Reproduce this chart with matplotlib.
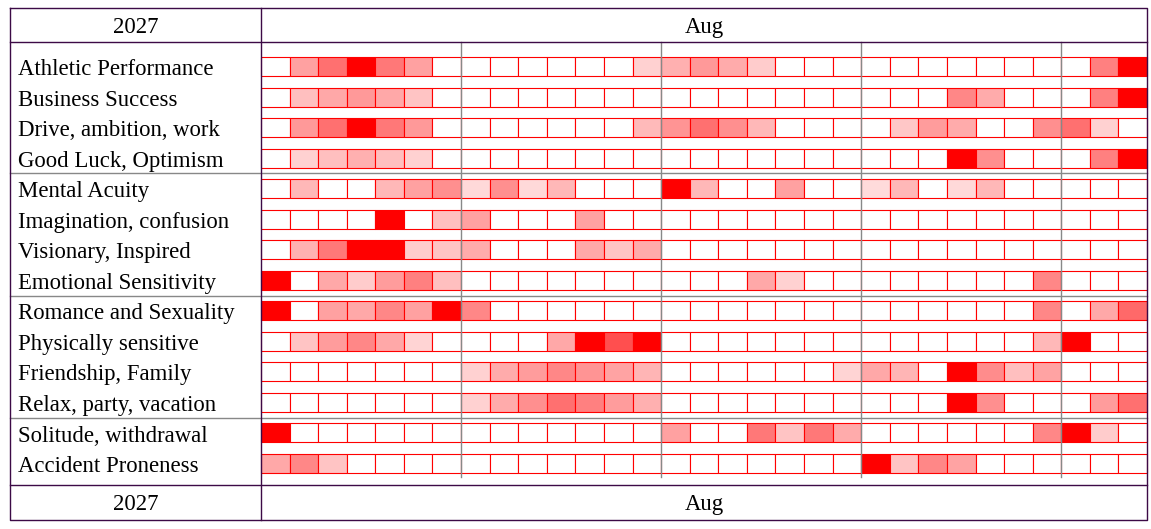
import numpy as np
import matplotlib
matplotlib.use("Agg")
import matplotlib.pyplot as plt

year_label = "2027"
month_label = "Aug"
n_days = 31

row_labels = [
    "Athletic Performance", "Business Success", "Drive, ambition, work",
    "Good Luck, Optimism", "Mental Acuity", "Imagination, confusion",
    "Visionary, Inspired", "Emotional Sensitivity", "Romance and Sexuality",
    "Physically sensitive", "Friendship, Family", "Relax, party, vacation",
    "Solitude, withdrawal", "Accident Proneness",
]

# intensity per day (0 = none, 100 = full red)
athletic = [0, 37, 56, 100, 53, 37, 0, 0, 0, 0, 0, 0, 0, 18, 31, 40, 33, 20, 0, 0, 0, 0, 0, 0, 0, 0, 0, 0, 0, 50, 100]
business = [0, 25, 34, 40, 34, 23, 0, 0, 0, 0, 0, 0, 0, 0, 0, 0, 0, 0, 0, 0, 0, 0, 0, 0, 47, 33, 0, 0, 0, 50, 100]
drive = [0, 40, 56, 100, 53, 40, 0, 0, 0, 0, 0, 0, 0, 27, 42, 56, 44, 28, 0, 0, 0, 0, 22, 39, 33, 0, 0, 44, 56, 18, 0]
luck = [0, 18, 25, 31, 25, 18, 0, 0, 0, 0, 0, 0, 0, 0, 0, 0, 0, 0, 0, 0, 0, 0, 0, 0, 100, 44, 0, 0, 0, 50, 100]
mental = [0, 28, 0, 0, 28, 37, 44, 15, 44, 15, 28, 0, 0, 0, 100, 28, 0, 0, 37, 0, 0, 14, 28, 0, 15, 28, 0, 0, 0, 0, 0]
imagination = [0, 0, 0, 0, 100, 0, 25, 37, 0, 0, 0, 37, 0, 0, 0, 0, 0, 0, 0, 0, 0, 0, 0, 0, 0, 0, 0, 0, 0, 0, 0]
visionary = [0, 31, 53, 100, 100, 20, 23, 33, 0, 0, 0, 34, 23, 33, 0, 0, 0, 0, 0, 0, 0, 0, 0, 0, 0, 0, 0, 0, 0, 0, 0]
emotional = [100, 0, 34, 20, 39, 50, 25, 0, 0, 0, 0, 0, 0, 0, 0, 0, 0, 34, 18, 0, 0, 0, 0, 0, 0, 0, 0, 47, 0, 0, 0]
romance = [100, 0, 37, 34, 47, 37, 100, 47, 0, 0, 0, 0, 0, 0, 0, 0, 0, 0, 0, 0, 0, 0, 0, 0, 0, 0, 0, 47, 0, 34, 59]
physical = [0, 23, 39, 47, 34, 17, 0, 0, 0, 0, 34, 100, 69, 100, 0, 0, 0, 0, 0, 0, 0, 0, 0, 0, 0, 0, 0, 28, 100, 0, 0]
friendship = [0, 0, 0, 0, 0, 0, 0, 18, 33, 39, 47, 42, 36, 29, 0, 0, 0, 0, 0, 0, 17, 34, 29, 0, 100, 45, 25, 36, 0, 0, 0]
relax = [0, 0, 0, 0, 0, 0, 0, 18, 33, 44, 56, 50, 39, 31, 0, 0, 0, 0, 0, 0, 0, 0, 0, 0, 100, 44, 0, 0, 0, 39, 56]
solitude = [100, 0, 0, 0, 0, 0, 0, 0, 0, 0, 0, 0, 0, 0, 37, 0, 0, 53, 23, 53, 33, 0, 0, 0, 0, 0, 0, 47, 100, 20, 0]
accident = [34, 47, 23, 0, 0, 0, 0, 0, 0, 0, 0, 0, 0, 0, 0, 0, 0, 0, 0, 0, 0, 100, 23, 47, 36, 0, 0, 0, 0, 0, 0]

rows = [athletic, business, drive, luck, mental, imagination, visionary,
        emotional, romance, physical, friendship, relax, solitude, accident]
group_breaks = [3.5, 7.5, 11.5]
week_breaks = [7, 14, 21, 28]

# layout (x in days, y in rows)
W, H, DPI = 1151, 529, 100
col_px = 886 / n_days
row_px = 30.54
x0_px, y0_px = 261, 66.5


def px_x(p):
    return (p - x0_px) / col_px


def px_y(p):
    return (p - y0_px) / row_px


fig = plt.figure(figsize=(W / DPI, H / DPI), dpi=DPI)
ax = fig.add_axes([0, 0, 1, 1])
ax.set_xlim(px_x(0), px_x(W))
ax.set_ylim(px_y(H), px_y(0))
ax.axis("off")

serif = ["Liberation Serif", "DejaVu Serif"]
fsize = 16.4
frame_c = "#3c0a46"
grid_c = "#888888"

days = np.arange(n_days)
cell_h = 19 / row_px
for i, vals in enumerate(rows):
    v = np.array(vals) / 100.0
    colors = [(1, 1 - a, 1 - a) for a in v]
    ax.barh(np.full(n_days, i), np.ones(n_days), left=days, height=cell_h,
            color=colors, edgecolor="red", linewidth=0.8, zorder=2)
    ax.text(px_x(18), i + 0.1, row_labels[i], ha="left", va="center",
            fontsize=fsize, family=serif, color="black")

top_hdr, bot_ftr = px_y(42), px_y(484.5)
grid_end = px_y(477)
for wk in week_breaks:
    ax.plot([wk, wk], [top_hdr, grid_end], color=grid_c, lw=1.0, zorder=3)
for g in group_breaks:
    ax.plot([px_x(10.5), n_days], [g, g], color=grid_c, lw=1.0, zorder=3)

# outer frame, header and footer
left, right = px_x(10.5), n_days
top, bottom = px_y(7.5), px_y(520)
ax.plot([left, right, right, left, left], [top, top, bottom, bottom, top],
        color=frame_c, lw=1.0, zorder=4)
ax.plot([left, right], [top_hdr, top_hdr], color=frame_c, lw=1.0, zorder=4)
ax.plot([left, right], [bot_ftr, bot_ftr], color=frame_c, lw=1.0, zorder=4)
ax.plot([0, 0], [top, bottom], color=frame_c, lw=1.0, zorder=4)

for yc in [(top + top_hdr) / 2, (bot_ftr + bottom) / 2]:
    ax.text((left + 0) / 2, yc + 0.08, year_label, ha="center", va="center",
            fontsize=fsize, family=serif)
    ax.text(n_days / 2, yc + 0.08, month_label, ha="center", va="center",
            fontsize=fsize, family=serif)

fig.savefig("out.png", dpi=DPI, facecolor="white")
